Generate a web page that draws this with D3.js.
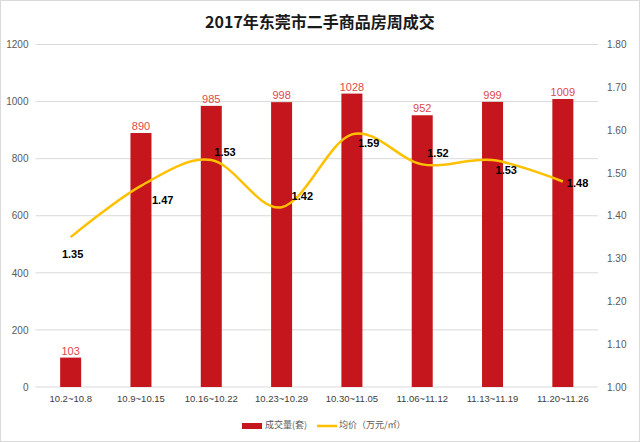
<!DOCTYPE html>
<html>
<head>
<meta charset="utf-8">
<script src="https://cdn.jsdelivr.net/npm/d3@7"></script>
<style>
  body { margin: 0; background: #fff; }
  svg { display: block; font-family: "Noto Sans CJK SC", "Liberation Sans", sans-serif; }
</style>
</head>
<body>
<div class="container"></div>
<script>
const weeks = ["10.2~10.8", "10.9~10.15", "10.16~10.22", "10.23~10.29",
  "10.30~11.05", "11.06~11.12", "11.13~11.19", "11.20~11.26"];
const volume = [103, 890, 985, 998, 1028, 952, 999, 1009];
const price = [1.35, 1.47, 1.53, 1.42, 1.59, 1.52, 1.53, 1.48];
const leftTicks = [0, 200, 400, 600, 800, 1000, 1200];
const rightTicks = [1.0, 1.1, 1.2, 1.3, 1.4, 1.5, 1.6, 1.7, 1.8];

// label offsets for the price labels (dx, dy from point)
const priceLabelOffset = [[2, 18], [11, 15], [3, -7], [10, -10], [6, 10], [5, -10], [3, 11], [4, 3]];

const width = 640, height = 442;
const margin = { top: 44.5, right: 42, bottom: 55, left: 35.5 };

const svg = d3.select(".container")
  .append("svg")
  .attr("width", width)
  .attr("height", height);

svg.append("rect")
  .attr("x", 0.5).attr("y", 0.5)
  .attr("width", width - 1).attr("height", height - 1)
  .attr("fill", "#fff").attr("stroke", "#d9d9d9");

svg.append("text")
  .attr("x", 320).attr("y", 28)
  .attr("text-anchor", "middle")
  .attr("font-size", 16).attr("font-weight", "bold")
  .attr("fill", "#1a1a1a")
  .text("2017年东莞市二手商品房周成交");

const x = d3.scaleBand().domain(weeks)
  .range([margin.left, width - margin.right]);
const yL = d3.scaleLinear().domain([0, 1200])
  .range([height - margin.bottom, margin.top]);
const yR = d3.scaleLinear().domain([1.0, 1.8])
  .range([height - margin.bottom, margin.top]);

// gridlines
svg.append("g")
  .selectAll("line")
  .data(leftTicks)
  .join("line")
  .attr("x1", margin.left).attr("x2", width - margin.right)
  .attr("y1", d => yL(d)).attr("y2", d => yL(d))
  .attr("stroke", "#d9d9d9");

// left axis
const leftAxis = svg.append("g")
  .attr("transform", `translate(${margin.left - 7},0)`)
  .call(d3.axisLeft(yL).tickValues(leftTicks).tickSize(0).tickPadding(0)
    .tickFormat(d3.format("d")));
leftAxis.select(".domain").remove();
leftAxis.selectAll("text").attr("font-size", 10).attr("fill", "#595959")
  .attr("font-family", "Liberation Sans, sans-serif");

// right axis
const rightAxis = svg.append("g")
  .attr("transform", `translate(${width - margin.right + 9},0)`)
  .call(d3.axisRight(yR).tickValues(rightTicks).tickSize(0).tickPadding(0)
    .tickFormat(d3.format(".2f")));
rightAxis.select(".domain").remove();
rightAxis.selectAll("text").attr("font-size", 10).attr("fill", "#595959")
  .attr("font-family", "Liberation Sans, sans-serif");

// bottom axis labels
const bottomAxis = svg.append("g")
  .attr("transform", `translate(0,${height - margin.bottom})`)
  .call(d3.axisBottom(x).tickSize(0).tickPadding(8));
bottomAxis.select(".domain").remove();
bottomAxis.selectAll("text").attr("font-size", 9.5).attr("fill", "#404040")
  .attr("font-family", "Liberation Sans, sans-serif");

// bars
const barW = 21;
svg.append("g")
  .selectAll("rect")
  .data(volume)
  .join("rect")
  .attr("x", (d, i) => x(weeks[i]) + x.bandwidth() / 2 - barW / 2)
  .attr("y", d => yL(d))
  .attr("width", barW)
  .attr("height", d => yL(0) - yL(d))
  .attr("fill", "#c4161c");

svg.append("g")
  .selectAll("text")
  .data(volume)
  .join("text")
  .attr("x", (d, i) => x(weeks[i]) + x.bandwidth() / 2)
  .attr("y", d => yL(d) - 3)
  .attr("text-anchor", "middle")
  .attr("font-size", 11)
  .attr("font-family", "Liberation Sans, sans-serif")
  .attr("fill", "#e0474c")
  .text(d => d);

// price line
const line = d3.line()
  .x((d, i) => x(weeks[i]) + x.bandwidth() / 2)
  .y(d => yR(d))
  .curve(d3.curveCatmullRom.alpha(0));

svg.append("path")
  .datum(price)
  .attr("d", line)
  .attr("fill", "none")
  .attr("stroke", "#ffc000")
  .attr("stroke-width", 2.5);

svg.append("g")
  .selectAll("text")
  .data(price)
  .join("text")
  .attr("x", (d, i) => x(weeks[i]) + x.bandwidth() / 2 + priceLabelOffset[i][0])
  .attr("y", (d, i) => yR(d) + priceLabelOffset[i][1])
  .attr("text-anchor", (d, i) => i === 0 ? "middle" : "start")
  .attr("dominant-baseline", "middle")
  .attr("font-size", 11)
  .attr("font-weight", "bold")
  .attr("font-family", "Liberation Sans, sans-serif")
  .attr("fill", "#000")
  .text(d => d.toFixed(2));

// legend
const legend = svg.append("g").attr("transform", "translate(0,426)");
legend.append("rect")
  .attr("x", 242).attr("y", -3).attr("width", 20).attr("height", 6)
  .attr("fill", "#c4161c");
legend.append("text")
  .attr("x", 265).attr("y", 0).attr("dominant-baseline", "middle")
  .attr("font-size", 9).attr("fill", "#595959")
  .text("成交量(套)");
legend.append("line")
  .attr("x1", 317).attr("x2", 337).attr("y1", 0).attr("y2", 0)
  .attr("stroke", "#ffc000").attr("stroke-width", 2.5);
legend.append("text")
  .attr("x", 339).attr("y", 0).attr("dominant-baseline", "middle")
  .attr("font-size", 9).attr("fill", "#595959")
  .text("均价（万元/㎡）");
</script>
</body>
</html>
